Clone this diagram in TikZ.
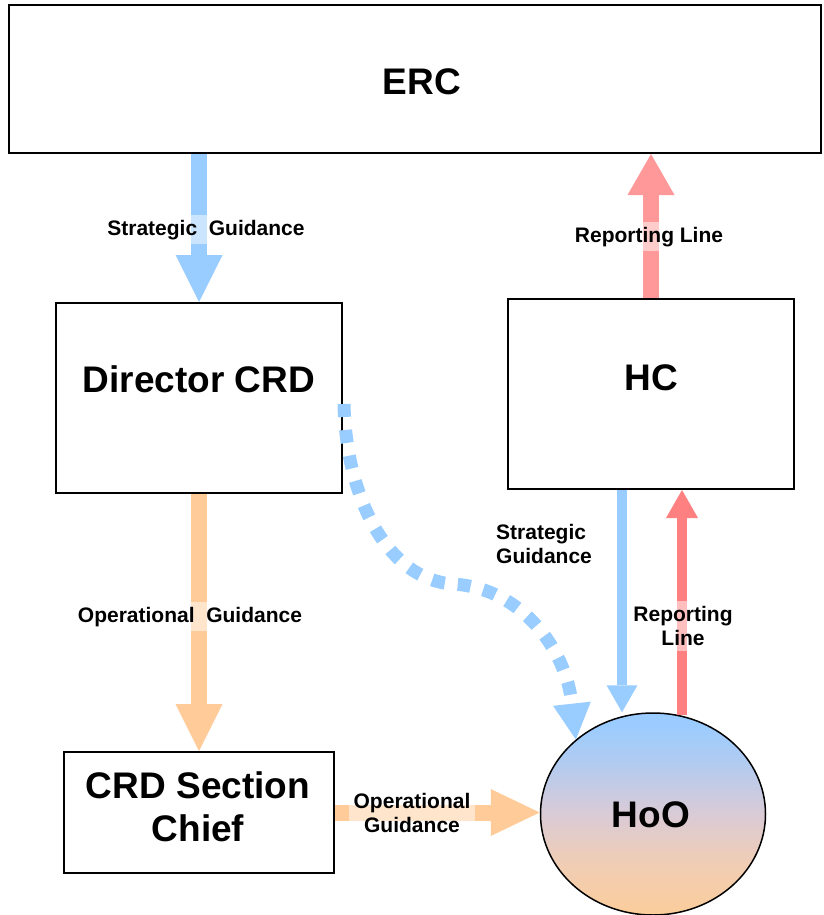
\documentclass[tikz,border=0pt]{standalone}
\usepackage{fontspec}
\setmainfont{Liberation Sans}
\usetikzlibrary{arrows.meta,shapes.geometric,calc}
\definecolor{cblue}{RGB}{153,204,255}
\definecolor{cred}{RGB}{255,153,153}
\definecolor{cred2}{RGB}{255,128,128}
\definecolor{corange}{RGB}{255,204,153}
\definecolor{hotop}{RGB}{155,204,255}
\definecolor{hoqa}{RGB}{178,203,240}
\definecolor{homid}{RGB}{218,203,214}
\definecolor{hoqb}{RGB}{240,205,180}
\definecolor{hobot}{RGB}{251,205,155}
\pgfdeclareverticalshading{hoshade}{100bp}{color(0bp)=(hobot); color(25bp)=(hobot); color(37.5bp)=(hoqb); color(50bp)=(homid); color(62.5bp)=(hoqa); color(72bp)=(hotop); color(100bp)=(hotop)}
\begin{document}
\begin{tikzpicture}[x=1pt,y=-1pt,
  box/.style={draw=black, line width=2pt, rectangle, fill=white, inner sep=0pt},
  big/.style={font=\bfseries\fontsize{37}{42.5}\selectfont, inner sep=0pt, align=center},
  lbl/.style={font=\bfseries\fontsize{21}{24.5}\selectfont, fill=white, fill opacity=0.5, text opacity=1, inner sep=5pt, align=center},
  fatarrow/.style={line width=16pt},
  slimarrow/.style={line width=10pt, -{Triangle[width=31pt,length=27pt,line width=0pt]}},
  dotarrow/.style={line width=13pt, dash pattern=on 13pt off 13pt, -{Triangle[width=38pt,length=36pt,line width=0pt]}}
]
\useasboundingbox (0,0) rectangle (823,915);
% boxes
\node[box, minimum width=812pt, minimum height=148pt] (erc) at (415,79) {};
\node[box, minimum width=286pt, minimum height=190pt] (dir) at (199,398) {};
\node[box, minimum width=286pt, minimum height=190pt] (hc) at (651,394) {};
\node[box, minimum width=270pt, minimum height=121pt] (sec) at (199,812.5) {};
\node[ellipse, draw=black, line width=1.5pt, minimum width=225pt, minimum height=202pt, inner sep=0pt,
      shade, shading=hoshade] (hoo) at (653,814) {};
% texts
\node[big, anchor=base] (ercT) at (422,95) {ERC};
\node[big, anchor=base] (dirT) at (199,392) {Director CRD};
\node[big, anchor=base] (hcT) at (651,390) {HC};
\node[big] (secT) at (198,807) {CRD Section\\Chief};
\node[big, anchor=base] (hooT) at (651,827) {HoO};
% connectors
\draw[fatarrow, cblue, -{Triangle[width=47pt,length=47pt,line width=0pt]}] (dir.north |- erc.south) -- (dir.north);
\draw[fatarrow, cred, -{Triangle[width=47pt,length=41pt,line width=0pt]}] (hc.north) -- (hc.north |- erc.south);
\draw[fatarrow, corange, -{Triangle[width=47pt,length=47pt,line width=0pt]}] (dir.south) -- (sec.north);
\draw[fatarrow, corange, -{Triangle[width=47pt,length=49pt,line width=0pt]}] (sec.east) -- (sec.east -| hoo.west);
\draw[slimarrow, cblue] ($(hc.south)+(-29,0)$) -- ($(hoo.north)+(-31,0)$);
\draw[slimarrow, cred2, -{Triangle[width=32pt,length=28pt,line width=0pt]}] ($(hoo.north)+(29,3)$) -- ($(hc.south)+(31,0)$);
\coordinate (ds) at ($(dir.east)+(1,6)$);
\coordinate (dm) at (453,584);
\draw[dotarrow, cblue] (ds) .. controls (346,498) and (388,580) .. (dm) .. controls (522,588) and (566,650) .. (hoo.136);
% labels
\node[lbl, anchor=base] (l1) at (206,235) {Strategic\ \ Guidance};
\node[lbl, anchor=base] (l2) at (649,242) {Reporting Line};
\node[lbl, anchor=base] (l3) at (190,622) {Operational\ \ Guidance};
\node[lbl, fill=none, align=left, anchor=west] (l4) at (491,544) {Strategic\\Guidance};
\node[lbl] (l5) at (683,626) {Reporting\\Line};
\node[lbl] (l6) at (412,813) {Operational\\Guidance};
\end{tikzpicture}
\end{document}
